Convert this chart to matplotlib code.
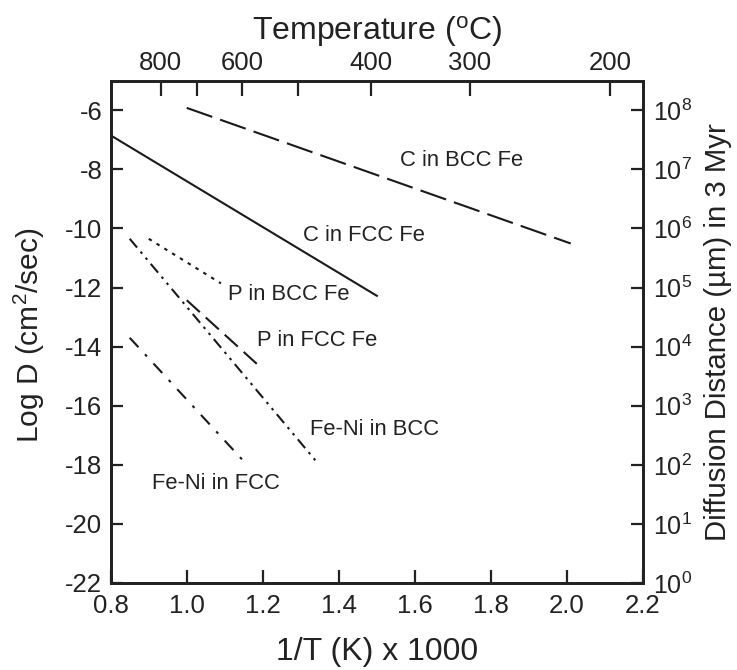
import matplotlib
matplotlib.use("Agg")
import matplotlib.pyplot as plt
import numpy as np

plt.rcParams['font.family'] = ['Liberation Sans', 'DejaVu Sans']
plt.rcParams['mathtext.fontset'] = 'custom'
plt.rcParams['mathtext.rm'] = 'Liberation Sans'
plt.rcParams['mathtext.it'] = 'Liberation Sans:italic'
plt.rcParams['axes.unicode_minus'] = False

# ---- data ----
series = ["C in BCC Fe", "C in FCC Fe", "P in BCC Fe", "P in FCC Fe",
          "Fe-Ni in BCC", "Fe-Ni in FCC"]
x_start = [1.00, 0.80, 0.90, 1.00, 0.85, 0.85]
x_end   = [2.01, 1.50, 1.09, 1.19, 1.345, 1.155]
y_start = [-5.92, -6.85, -10.35, -12.43, -10.35, -13.70]
y_end   = [-10.51, -12.28, -11.86, -14.65, -17.95, -17.95]
label_x = [1.56, 1.307, 1.108, 1.184, 1.323, 0.908]
label_y = [-7.69, -10.23, -12.22, -13.80, -16.80, -18.63]

x_ticks = [0.8, 1.0, 1.2, 1.4, 1.6, 1.8, 2.0, 2.2]
y_ticks = [-22, -20, -18, -16, -14, -12, -10, -8, -6]
temp_ticks = [800, 700, 600, 500, 400, 300, 200]
temp_labels = ["800", "", "600", "", "400", "300", "200"]
dist_exponents = [0, 1, 2, 3, 4, 5, 6, 7, 8]

# line styles
styles = [
    dict(linestyle=(0, (13, 4))),
    dict(linestyle='-'),
    dict(linestyle=(0, (1.7, 2.7))),
    dict(linestyle=(0, (8.5, 3.8))),
    dict(linestyle=(0, (5.5, 2.6, 1.2, 2.6, 1.2, 2.6))),
    dict(linestyle=(0, (6.2, 4.6, 1.4, 4.6))),
]

W, H = 737, 670
fig = plt.figure(figsize=(W / 100, H / 100), dpi=100)
L, R, T, B = 110.7, 643, 80.7, 583
ax = fig.add_axes([L / W, 1 - B / H, (R - L) / W, (B - T) / H])

for i, name in enumerate(series):
    ax.plot([x_start[i], x_end[i]], [y_start[i], y_end[i]], color='#1a1a1a',
            lw=1.5, **styles[i])
    ax.text(label_x[i], label_y[i], name, fontsize=15.8, color='#222222',
            ha='left', va='center')

ax.set_xlim(0.8, 2.2)
ax.set_ylim(-22, -5)
ax.set_xticks(x_ticks)
ax.set_xticklabels([f"{v:.1f}" for v in x_ticks])
ax.set_yticks(y_ticks)
ax.set_yticklabels([str(v) for v in y_ticks])
ax.tick_params(axis='x', direction='in', length=9.5, width=1.6, labelsize=18.5,
               pad=8, colors='#222222', top=False)
ax.tick_params(axis='y', direction='in', length=8.5, width=1.6, labelsize=18.5,
               pad=6, colors='#222222', right=False)
for s in ax.spines.values():
    s.set_linewidth(1.8)
    s.set_color('#222222')

# top temperature axis
axt = ax.twiny()
axt.set_xlim(ax.get_xlim())
axt.set_xticks([1000.0 / (t + 273.15) for t in temp_ticks])
axt.set_xticklabels(temp_labels)
axt.tick_params(axis='x', direction='in', length=10.5, width=1.6, labelsize=18.5,
                pad=4, colors='#222222')

# right diffusion distance axis
axr = ax.twinx()
axr.set_ylim(ax.get_ylim())
axr.set_yticks([-22 + 2 * e for e in dist_exponents])
axr.set_yticklabels([rf"$\mathrm{{10}}^{{{e}}}$" for e in dist_exponents])
axr.tick_params(axis='y', direction='in', length=8.5, width=1.6, labelsize=18,
                pad=7, colors='#222222')
for a in (axt, axr):
    for s in a.spines.values():
        s.set_linewidth(1.8)
        s.set_color('#222222')

fig.text((L + R) / 2 / W, 1 - 667 / H, "1/T (K) x 1000", fontsize=23,
         ha='center', va='bottom', color='#222222')
fig.text((L + R) / 2 / W, 1 - 32 / H, r"Temperature ($^{\mathrm{o}}$C)",
         fontsize=23, ha='center', va='center', color='#222222')
fig.text(29 / W, 1 - ((T + B) / 2 + 3) / H, r"Log D (cm$^{\mathrm{2}}$/sec)",
         fontsize=21.5, rotation=90, ha='center', va='center', color='#222222')
fig.text(718 / W, 1 - (T + B) / 2 / H, "Diffusion Distance (µm) in 3 Myr",
         fontsize=21.2, rotation=90, ha='center', va='center', color='#222222')

fig.savefig("out.png", dpi=100)
